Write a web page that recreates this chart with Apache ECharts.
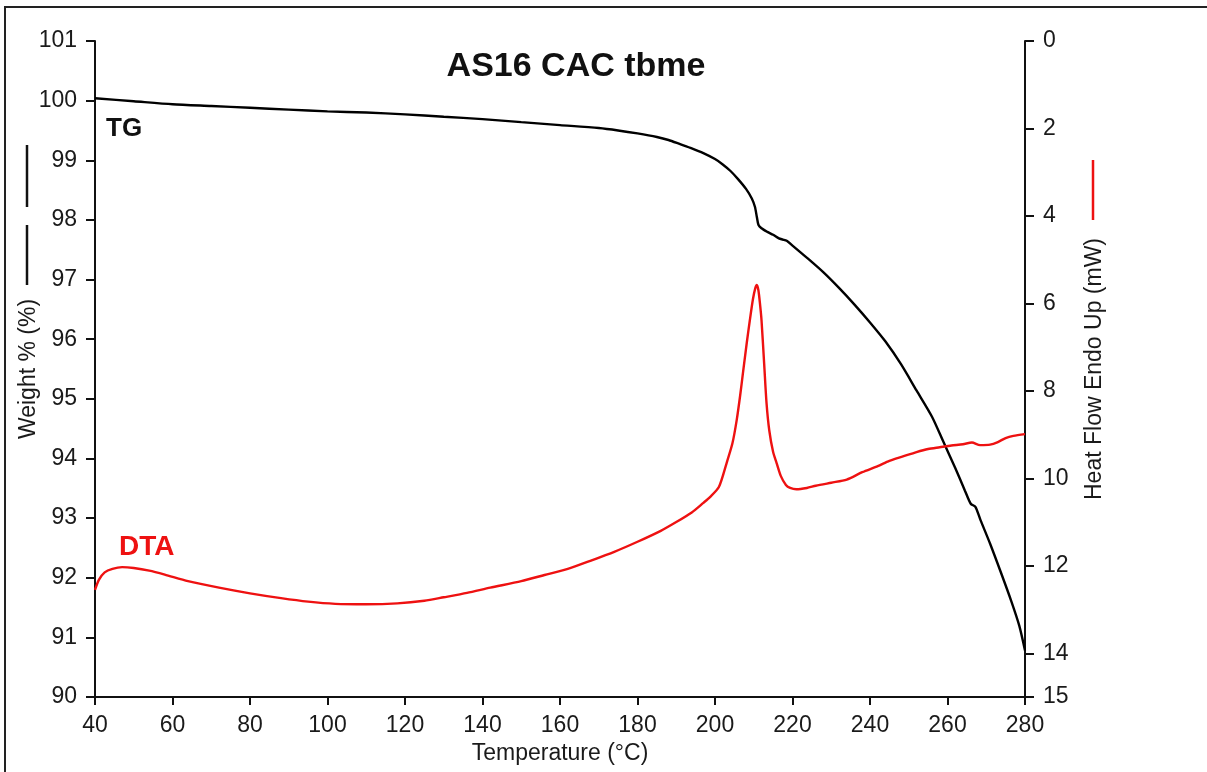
<!DOCTYPE html>
<html>
<head>
<meta charset="utf-8">
<script src="https://cdn.jsdelivr.net/npm/echarts@6/dist/echarts.min.js"></script>
<style>
html,body{margin:0;padding:0;background:#fff;}
#chart{width:1207px;height:772px;}
</style>
</head>
<body>
<div id="chart"></div>
<script>
// ---- data ----
const chartTitle = 'AS16 CAC tbme';
const xName = 'Temperature (°C)';
const leftName = 'Weight % (%)';
const rightName = 'Heat Flow Endo Up (mW)';

// TG curve: temperature (°C) and weight (%)
const tgT = [40,50,60,70,80,90,100,110,120,130,140,150,160,170,175,180,185,188,191,194,197,200,202,204,206,208,209.5,210.3,210.8,211.2,212,213.5,215,216.5,217.5,218.5,220,224,228,232,236,240,244,248,252,256,259,262,264.5,266,267.2,268.5,271,274,276.5,278.5,280];
const tgW = [100.04,99.99,99.94,99.91,99.88,99.85,99.82,99.80,99.77,99.73,99.69,99.64,99.59,99.54,99.50,99.45,99.39,99.34,99.27,99.20,99.12,99.02,98.93,98.82,98.68,98.52,98.36,98.22,98.05,97.92,97.86,97.80,97.75,97.69,97.67,97.65,97.57,97.35,97.12,96.86,96.58,96.28,95.96,95.58,95.14,94.70,94.27,93.84,93.46,93.24,93.19,92.97,92.57,92.05,91.60,91.20,90.78];

// DTA curve: temperature (°C) and heat flow (mW)
const dtaT = [40,41,42.5,44.5,47,50,54,58,64,72,80,88,95,102,110,118,125,130,136,142,150,156,162,168,174,180,186,190,194,197,198.7,201,203,204.5,205.6,206.5,207.2,208.2,209,209.8,210.4,210.8,211.2,211.6,212,212.7,213.3,214,215,215.9,217,218.3,219.4,221,223.7,226,230,234,238,242,245,248.5,252,255,258,261,264,266.3,268.4,271,273,275,277,280];
const dtaH = [12.55,12.32,12.15,12.07,12.03,12.05,12.11,12.2,12.35,12.5,12.63,12.74,12.82,12.87,12.88,12.86,12.80,12.72,12.62,12.50,12.35,12.21,12.07,11.88,11.68,11.45,11.2,11.0,10.78,10.56,10.43,10.2,9.65,9.2,8.67,8.1,7.6,6.9,6.38,5.9,5.65,5.58,5.7,6.0,6.38,7.4,8.28,8.9,9.4,9.65,9.95,10.15,10.22,10.25,10.22,10.17,10.1,10.03,9.86,9.72,9.6,9.5,9.4,9.33,9.29,9.25,9.22,9.18,9.24,9.23,9.17,9.08,9.03,8.99];

const tgLabel = 'TG';
const dtaLabel = 'DTA';

const tgData = tgT.map((t, i) => [t, tgW[i]]);
const dtaData = dtaT.map((t, i) => [t, dtaH[i]]);

const FONT = '"Liberation Sans", Arial, sans-serif';
const TXT = '#1a1a1a';
const RED = '#ee1111';

const chart = echarts.init(document.getElementById('chart'), null, {renderer: 'canvas'});
chart.setOption({
  animation: false,
  backgroundColor: '#fff',
  textStyle: {fontFamily: FONT},
  grid: {left: 95, right: 182, top: 41, bottom: 75, containLabel: false, outerBoundsMode: 'none'},
  xAxis: {
    type: 'value', min: 40, max: 280, interval: 20,
    name: xName, nameLocation: 'middle', nameGap: 45, nameMoveOverlap: false,
    nameTextStyle: {fontFamily: FONT, fontSize: 23, color: TXT},
    axisLine: {show: true, onZero: false, lineStyle: {color: '#111', width: 2}},
    axisTick: {show: true, length: 8, lineStyle: {color: '#111', width: 2}},
    axisLabel: {fontFamily: FONT, fontSize: 23, color: TXT, margin: 17},
    splitLine: {show: false}
  },
  yAxis: [{
    type: 'value', min: 90, max: 101, interval: 1, position: 'left',
    name: leftName, nameLocation: 'middle', nameGap: 55, nameMoveOverlap: false,
    nameTextStyle: {fontFamily: FONT, fontSize: 23, color: TXT},
    axisLine: {show: true, lineStyle: {color: '#111', width: 2}},
    axisTick: {show: true, length: 9, lineStyle: {color: '#111', width: 2}},
    axisLabel: {fontFamily: FONT, fontSize: 23, color: TXT, margin: 18},
    splitLine: {show: false}
  }, {
    type: 'value', min: 0, max: 15, interval: 2, inverse: true, position: 'right',
    name: rightName, nameLocation: 'middle', nameGap: 58, nameMoveOverlap: false,
    nameTextStyle: {fontFamily: FONT, fontSize: 23, color: TXT},
    axisLine: {show: true, lineStyle: {color: '#111', width: 2}},
    axisTick: {show: true, length: 9, lineStyle: {color: '#111', width: 2}},
    axisLabel: {fontFamily: FONT, fontSize: 23, color: TXT, margin: 18},
    splitLine: {show: false}
  }],
  series: [{
    name: tgLabel, type: 'line', yAxisIndex: 0, data: tgData,
    showSymbol: false, smooth: 0.25,
    lineStyle: {color: '#000', width: 2.4}, itemStyle: {color: '#000'}
  }, {
    name: dtaLabel, type: 'line', yAxisIndex: 1, data: dtaData,
    showSymbol: false, smooth: 0.25,
    lineStyle: {color: RED, width: 2.4}, itemStyle: {color: RED}
  }],
  graphic: [
    {type: 'rect', z: -10, shape: {x: 5, y: 7, width: 1400, height: 1000}, style: {fill: 'none', stroke: '#222', lineWidth: 2}},
    {type: 'line', shape: {x1: 27, y1: 145, x2: 27, y2: 207}, style: {stroke: '#111', lineWidth: 2.5}},
    {type: 'line', shape: {x1: 27, y1: 225, x2: 27, y2: 285}, style: {stroke: '#111', lineWidth: 2.5}},
    {type: 'line', shape: {x1: 1093, y1: 160, x2: 1093, y2: 220}, style: {stroke: RED, lineWidth: 2.5}},
    {type: 'text', x: 576, y: 67, style: {text: chartTitle, font: 'bold 34px ' + FONT, fill: '#111', textAlign: 'center', textVerticalAlign: 'middle'}},
    {type: 'text', x: 106, y: 129, style: {text: tgLabel, font: 'bold 26px ' + FONT, fill: '#111', textAlign: 'left', textVerticalAlign: 'middle'}},
    {type: 'text', x: 119, y: 547, style: {text: dtaLabel, font: 'bold 28px ' + FONT, fill: RED, textAlign: 'left', textVerticalAlign: 'middle'}}
  ]
});
</script>
</body>
</html>
